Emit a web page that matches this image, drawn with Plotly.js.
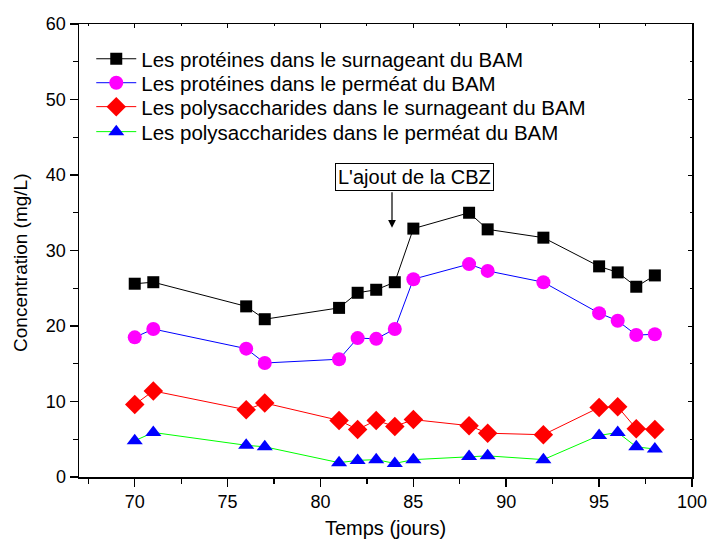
<!DOCTYPE html>
<html>
<head>
<meta charset="utf-8">
<script src="https://cdn.plot.ly/plotly-3.0.1.min.js"></script>
<style>html,body{margin:0;padding:0;background:#fff;}#chart{width:708px;height:545px;}</style>
</head>
<body>
<div id="chart"></div>
<script>
var days = [70, 71, 76, 77, 81, 82, 83, 84, 85, 88, 89, 92, 95, 96, 97, 98];
var protSurn = [25.6, 25.8, 22.6, 20.9, 22.4, 24.4, 24.8, 25.8, 32.9, 35.0, 32.8, 31.7, 27.9, 27.1, 25.2, 26.7];
var protPerm = [18.5, 19.6, 17.0, 15.1, 15.6, 18.4, 18.3, 19.6, 26.2, 28.2, 27.3, 25.8, 21.7, 20.7, 18.8, 18.9];
var polySurn = [9.6, 11.4, 8.9, 9.8, 7.5, 6.3, 7.5, 6.7, 7.6, 6.8, 5.8, 5.6, 9.2, 9.3, 6.4, 6.3];
var polyPerm = [4.8, 5.9, 4.2, 4.0, 1.9, 2.2, 2.3, 1.8, 2.3, 2.7, 2.8, 2.3, 5.5, 5.9, 4.0, 3.7];
var seriesNames = [
  "Les protéines dans le surnageant du BAM",
  "Les protéines dans le perméat du BAM",
  "Les polysaccharides dans le surnageant du BAM",
  "Les polysaccharides dans le perméat du BAM"
];
var xTitle = "Temps (jours)";
var yTitle = "Concentration (mg/L)";
var noteText = "L'ajout de la CBZ";
var noteDay = 83.85;

var F = "Arial, 'Liberation Sans', sans-serif";
var legendIds = ['legend', 'legend2', 'legend3', 'legend4'];
function tr(i, y, lc, mc, sym, sz) {
  return {x: days, y: y, name: seriesNames[i], legend: legendIds[i], type: 'scatter', mode: 'lines+markers',
    line: {color: lc, width: 1},
    marker: {symbol: sym, size: sz, color: mc, line: {width: 0}}};
}
var data = [
  tr(0, protSurn, '#000000', '#000000', 'square', 12),
  tr(1, protPerm, '#0000ff', '#ff00ff', 'circle', 14),
  tr(2, polySurn, '#ff0000', '#ff0000', 'diamond', 15),
  tr(3, polyPerm, '#00ff00', '#0000ff', 'triangle-up', 14)
];
data.push({x: [days[0]], y: [null], xaxis: 'x2', yaxis: 'y2', showlegend: false, hoverinfo: 'skip', type: 'scatter', mode: 'markers'});

function leg(yc) {
  return {x: 0.02, y: yc, xanchor: 'left', yanchor: 'middle', bgcolor: 'rgba(0,0,0,0)',
    font: {family: F, size: 20.5, color: '#000'}, itemwidth: 40};
}

var layout = {
  width: 708, height: 545,
  margin: {l: 79, r: 16, t: 24, b: 68},
  paper_bgcolor: '#fff', plot_bgcolor: '#fff',
  font: {family: F, size: 18, color: '#000'},
  showlegend: true,
  legend: leg(0.9229), legend2: leg(0.870), legend3: leg(0.8172), legend4: leg(0.762),
  xaxis: {range: [67, 100], dtick: 5, tick0: 0, showgrid: false, zeroline: false,
    showline: true, linecolor: '#000', linewidth: 1.5, ticks: 'outside', ticklen: 8, tickwidth: 1.5, tickcolor: '#000',
    minor: {dtick: 2.5, tick0: 0, ticks: 'outside', ticklen: 5, tickwidth: 1.2, tickcolor: '#000', showgrid: false},
    tickfont: {family: F, size: 18},
    title: {text: xTitle, font: {family: F, size: 20}, standoff: 10}},
  yaxis: {range: [0, 60], dtick: 10, showgrid: false, zeroline: false,
    showline: true, linecolor: '#000', linewidth: 1.5, ticks: 'outside', ticklen: 8, tickwidth: 1.5, tickcolor: '#000',
    minor: {dtick: 5, ticks: 'outside', ticklen: 5, tickwidth: 1.2, tickcolor: '#000', showgrid: false},
    tickfont: {family: F, size: 18}},
  xaxis2: {overlaying: 'x', side: 'top', range: [67, 100], dtick: 5, tick0: 0, showgrid: false, zeroline: false,
    showline: true, linecolor: '#000', linewidth: 1.5, ticks: 'inside', ticklen: 4, tickcolor: '#000', showticklabels: false,
    minor: {dtick: 2.5, tick0: 0, ticks: 'inside', ticklen: 2, tickcolor: '#000'}, anchor: 'y2'},
  yaxis2: {overlaying: 'y', side: 'right', range: [0, 60], dtick: 10, showgrid: false, zeroline: false,
    showline: true, linecolor: '#000', linewidth: 1.5, ticks: 'inside', ticklen: 4, tickcolor: '#000', showticklabels: false,
    minor: {dtick: 5, ticks: 'inside', ticklen: 2, tickcolor: '#000'}, anchor: 'x2'},
  annotations: [
    {x: 0, xref: 'paper', xanchor: 'center', xshift: -58, y: 28.35, yref: 'y', yanchor: 'middle',
      text: yTitle, textangle: -90, showarrow: false, font: {family: F, size: 19, color: '#000'}},
    {x: 85.07, y: 39.8, xref: 'x', yref: 'y', text: noteText, showarrow: false,
      font: {family: F, size: 20, color: '#000'}, bordercolor: '#000', borderwidth: 1, borderpad: 2, bgcolor: '#fff'},
    {x: noteDay, y: 33.0, xref: 'x', yref: 'y', ax: noteDay, ay: 37.9, axref: 'x', ayref: 'y', text: '',
      showarrow: true, arrowhead: 2, arrowsize: 1.3, arrowwidth: 1.2, arrowcolor: '#000'}
  ]
};
Plotly.newPlot('chart', data, layout, {displayModeBar: false, staticPlot: true});
</script>
</body>
</html>
